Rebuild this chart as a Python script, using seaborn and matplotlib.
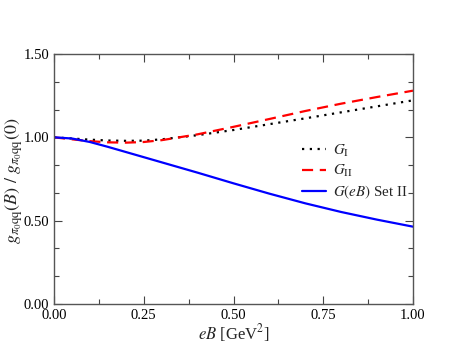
import matplotlib
matplotlib.use("Agg")
import matplotlib.pyplot as plt
import seaborn as sns
import pandas as pd
from matplotlib.ticker import MultipleLocator, FormatStrFormatter

sns.set_theme(style="ticks")
plt.rcParams['font.family'] = ['Liberation Serif', 'DejaVu Serif']
plt.rcParams['mathtext.fontset'] = 'stix'

eB = [0.0, 0.05, 0.1, 0.15, 0.2, 0.25, 0.3, 0.4, 0.5, 0.6, 0.7, 0.8, 0.9, 1.0]
G_I = [1.0, 0.993, 0.986, 0.981, 0.979, 0.980, 0.988, 1.013, 1.044, 1.079, 1.114, 1.150, 1.186, 1.222]
G_II = [1.0, 0.988, 0.977, 0.970, 0.968, 0.972, 0.983, 1.018, 1.063, 1.110, 1.158, 1.202, 1.242, 1.280]
G_eB = [1.0, 0.993, 0.972, 0.943, 0.912, 0.881, 0.850, 0.788, 0.724, 0.662, 0.604, 0.552, 0.506, 0.464]

labels = [r'$G_{\rm I}$', r'$G_{\rm II}$', r'$G(eB)$ Set II']
colors = ['black', 'red', 'blue']
styles = [(0, (1, 2.5)), (0, (5, 3)), '-']

fig = plt.figure(figsize=(4.63, 3.58), dpi=100)
ax = fig.add_axes([54/463, 1-304/358, (413-54)/463, (304-54)/358])

for ys, lab, c, ls in zip([G_I, G_II, G_eB], labels, colors, styles):
    df = pd.DataFrame({'x': eB, 'y': ys})
    sns.lineplot(data=df, x='x', y='y', ax=ax, color=c, linestyle=ls, lw=1.6, label=lab)

ax.set_xlim(0, 1)
ax.set_ylim(0, 1.5)
ax.xaxis.set_major_locator(MultipleLocator(0.25))
ax.xaxis.set_minor_locator(MultipleLocator(0.125))
ax.yaxis.set_major_locator(MultipleLocator(0.5))
ax.yaxis.set_minor_locator(MultipleLocator(0.5/3))
ax.xaxis.set_major_formatter(FormatStrFormatter('%.2f'))
ax.yaxis.set_major_formatter(FormatStrFormatter('%.2f'))
ax.tick_params(which='both', direction='in', top=True, right=True, labelsize=10.5, colors='#444444', labelcolor='black')
ax.tick_params(which='major', length=6, width=0.8)
ax.tick_params(which='minor', length=3.5, width=0.8)
for s in ax.spines.values():
    s.set_color('#555555')
    s.set_linewidth(1.0)

ax.set_xlabel(r'$eB$ [GeV$^2$]', fontsize=12, labelpad=0)
ax.set_ylabel(r'$g_{\pi_0\mathrm{qq}}(B)\ /\ g_{\pi_0\mathrm{qq}}(\mathit{0})$', fontsize=13)
ax.yaxis.set_label_coords(-0.08, 0.494)

leg = ax.legend(loc='center right', bbox_to_anchor=(1.01, 0.528), frameon=False, fontsize=10.8,
                handlelength=1.6, handletextpad=0.5, labelspacing=0.3, borderaxespad=0.2)

fig.savefig('out.png', dpi=100, facecolor='white')
